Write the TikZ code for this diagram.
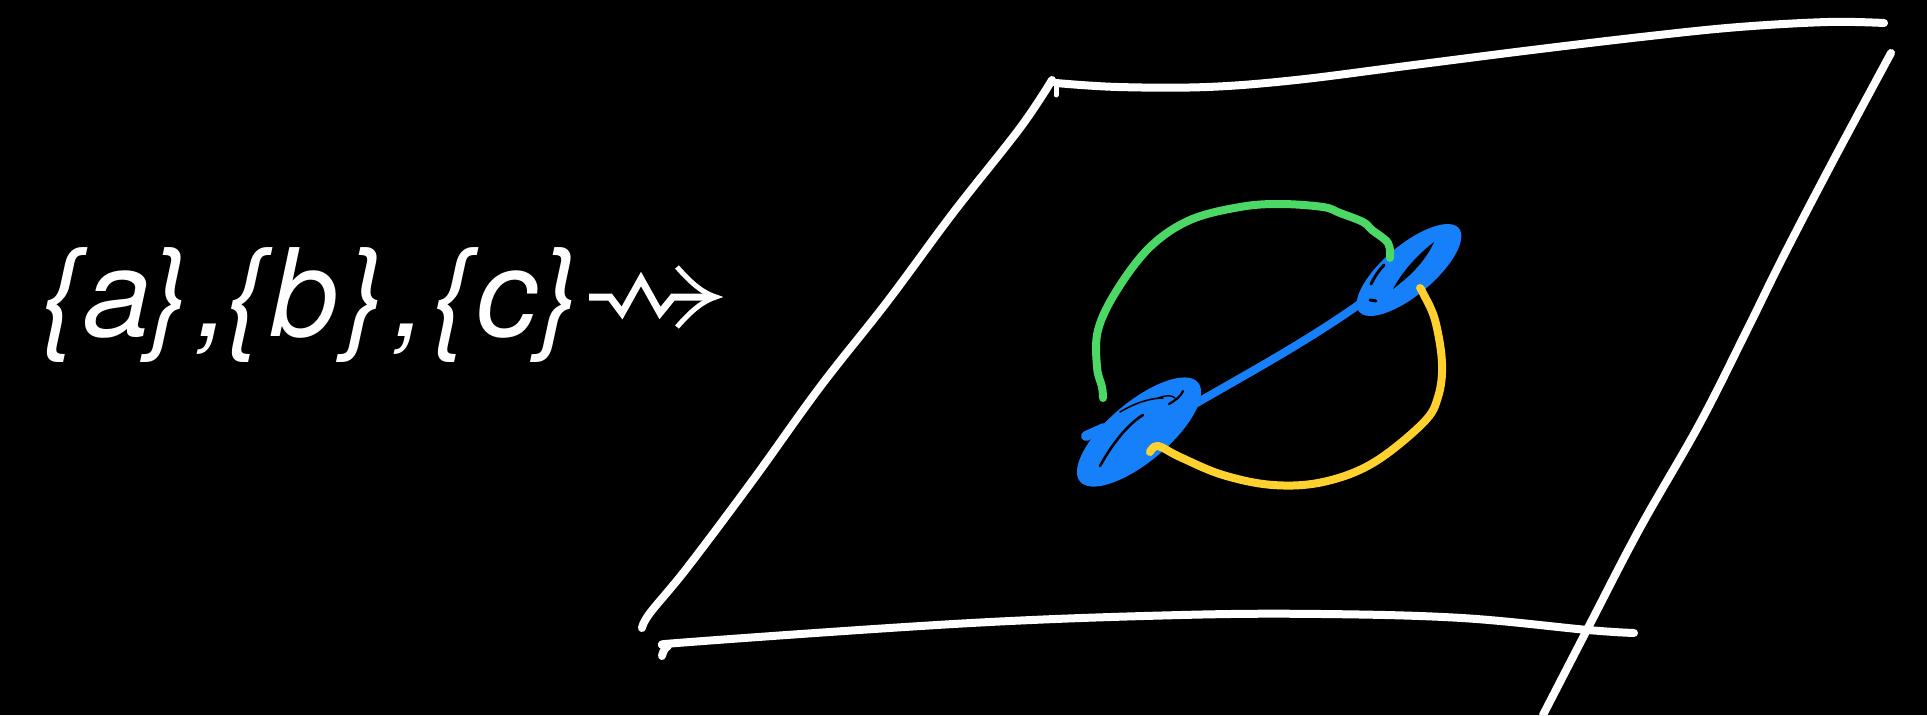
\documentclass[tikz,border=0pt]{standalone}
\usepackage{fontspec}
\newfontfamily\labelfont{TeX Gyre Heros}
\definecolor{bl}{HTML}{1580FA}
\definecolor{gr}{HTML}{4CD865}
\definecolor{ye}{HTML}{FFD12F}
\tikzset{
  wline/.style={white, line width=8pt, line cap=round, line join=round},
  cline/.style={line width=8pt, line cap=round, line join=round},
  slit/.style={black, line cap=round},
  lbl/.style={anchor=base west, inner sep=0pt, text=white, font=\labelfont\fontsize{122}{130}\selectfont\itshape},
}
\begin{document}
\begin{tikzpicture}[x=1pt,y=-1pt]
\fill[black] (0,0) rectangle (1927,715);
\useasboundingbox (0,0) rectangle (1927,715);

% label {a},{b},{c}
\node[lbl] (sets) at (41,336) {\{\kern1.8pt a\kern-3.3pt\}\kern7.8pt,\kern-4.4pt\{\kern3.3pt b\kern6.7pt\}\kern7.8pt,\kern5.6pt\{\kern2.8pt c\kern1.5pt\}};

% squiggly arrow
\draw[white, line width=7pt, line join=miter] (589,297) -- (610,297) -- (622,313) -- (641,279) -- (660,313) -- (673,297) -- (712,297);
\draw[white, line width=5pt, line cap=butt] (677,267) .. controls (692,284) and (703,293) .. (716,297)
      .. controls (703,301) and (692,310) .. (677,327);

% sheet (parallelogram)
\draw[wline] plot[smooth, tension=0.6] coordinates {(1056,83) (1118,87) (1207,87) (1296,80) (1414,65) (1532,50) (1650,36) (1739,27) (1828,22) (1884,23)};
\draw[wline] plot[smooth, tension=0.6] coordinates {(1052,80) (1020,128) (953,213) (887,302) (820,387) (753,480) (687,568) (650,613) (642,628)};
\draw[white, line width=5pt, line cap=round] (1056,84) -- (1056,95);
\draw[wline] plot[smooth, tension=0.6] coordinates {(662,656) (668,646) (690,642) (971,623) (1181,615) (1322,614) (1462,618) (1588,630) (1634,633)};
\draw[wline] plot[smooth, tension=0.6] coordinates {(1891,53) (1833,161) (1783,257) (1747,330) (1700,423) (1640,528) (1590,624) (1543,715)};

% blue connector
\draw[bl, cline] (1188,408) .. controls (1250,372) and (1310,340) .. (1368,298);

% left blob
\begin{scope}[shift={(1139,432)}, rotate=40]
  \fill[bl] (0,0) ellipse [x radius=77, y radius=30];
\end{scope}
\draw[bl, line width=10pt, line cap=round] (1086,436) -- (1104,428);
\draw[slit, line width=2.6pt] (1100,466) .. controls (1112,444) and (1128,424) .. (1143,415);
\draw[slit, line width=1.6pt] (1120,412) .. controls (1135,403) and (1150,398) .. (1163,398);
\draw[slit, line width=2.2pt] (1169,404) .. controls (1176,400) and (1181,396) .. (1183,391);
\draw[slit, line width=1.4pt] (1158,398) .. controls (1166,395) and (1172,395) .. (1175,398);

% right blob
\begin{scope}[shift={(1409,270)}, rotate=40]
  \fill[bl] (0,0) ellipse [x radius=65, y radius=25];
\end{scope}
\fill[black] (1393,289) .. controls (1402,272) and (1417,255) .. (1434,242)
   .. controls (1427,258) and (1414,272) .. (1403,281) .. controls (1399,284) and (1396,287) .. cycle;
\draw[slit, line width=3pt] (1371,284) .. controls (1375,276) and (1379,270) .. (1384,265);
\draw[slit, line width=3pt] (1370,300) -- (1376,301);

% green and yellow connectors
\draw[gr, cline] plot[smooth, tension=0.6] coordinates {(1103,398) (1102,387) (1097,367) (1098,330) (1117,290) (1150,247) (1190,220) (1240,207) (1280,204) (1323,207) (1340,213) (1363,222) (1372,230) (1388,243) (1390,258)};
\draw[ye, cline] plot[smooth, tension=0.6] coordinates {(1150,452) (1158,446) (1180,457) (1223,475) (1273,485) (1323,482) (1373,463) (1423,423) (1438,397) (1442,363) (1435,320) (1423,293) (1420,288)};
\end{tikzpicture}
\end{document}
